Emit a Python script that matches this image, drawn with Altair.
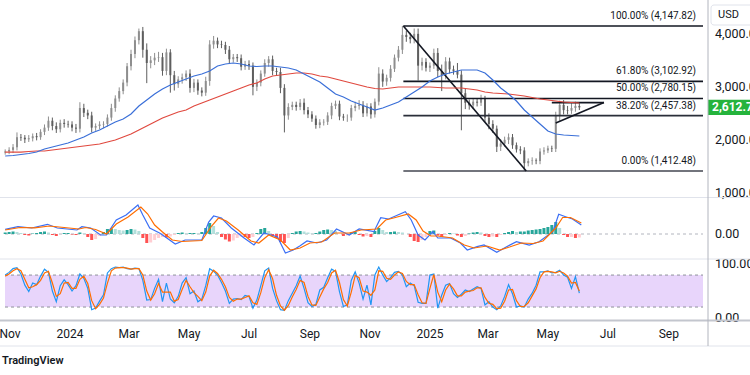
import altair as alt
import pandas as pd

# ------------------------------------------------------------------ data
START = "2023-10-27"          # first 4-day candle
first_open = 1760
close = [
    1780, 1810, 1860, 2050, 2040, 2010, 2030, 2070, 2050, 2150,
    2230, 2360, 2260, 2200, 2320, 2300, 2290, 2230, 2210, 2600,
    2510, 2460, 2230, 2260, 2290, 2300, 2420, 2600, 2780, 2920,
    3080, 3390, 3620, 3880, 4050, 3700, 3450, 3500, 3550, 3560,
    3300, 3650, 3220, 3050, 3140, 3180, 3250, 2980, 3080, 2930,
    2890, 3110, 3800, 3870, 3800, 3790, 3700, 3520, 3560, 3540,
    3380, 3430, 3400, 3000, 3080, 3250, 3450, 3520, 3300, 3280,
    2980, 2460, 2620, 2660, 2620, 2700, 2560, 2480, 2400, 2280,
    2330, 2340, 2460, 2640, 2680, 2440, 2420, 2420, 2600, 2640,
    2660, 2500, 2630, 2480, 2720, 3250, 3100, 3170, 3340, 3550,
    3700, 3980, 3940, 3900, 4000, 3400, 3470, 3360, 3400, 3640,
    3300, 3220, 3480, 3330, 3300, 3230, 2880, 2700, 2650, 2720,
    2700, 2770, 2420, 2300, 2210, 1870, 1930, 2000, 2050, 1900,
    1820, 1800, 1560, 1600, 1610, 1600, 1780, 1800, 1840, 1830,
    2450, 2660, 2560, 2550, 2600, 2640, 2612,
]
wick_up = [
    40, 50, 60, 90, 60, 50, 60, 50, 60, 50,
    60, 80, 60, 70, 60, 70, 60, 60, 70, 110,
    80, 60, 70, 50, 60, 50, 60, 80, 60, 70,
    60, 60, 80, 70, 50, 80, 120, 80, 90, 100,
    80, 70, 60, 80, 60, 70, 60, 80, 70, 60,
    60, 80, 80, 90, 60, 70, 60, 70, 60, 60,
    70, 60, 70, 60, 60, 60, 70, 60, 70, 60,
    80, 70, 70, 60, 60, 70, 80, 60, 60, 60,
    60, 50, 60, 60, 60, 60, 50, 60, 60, 80,
    90, 70, 60, 60, 60, 120, 80, 60, 70, 60,
    70, 170, 80, 80, 100, 100, 80, 70, 60, 80,
    90, 120, 80, 70, 70, 150, 80, 80, 60, 70,
    60, 80, 60, 80, 70, 60, 80, 60, 70, 60,
    50, 60, 60, 50, 60, 40, 60, 60, 50, 50,
    80, 80, 90, 80, 90, 80, 50,
]
wick_dn = [
    40, 50, 60, 60, 60, 70, 50, 60, 60, 50,
    60, 60, 80, 70, 60, 70, 60, 70, 80, 70,
    80, 70, 90, 60, 60, 70, 50, 60, 70, 60,
    60, 70, 80, 80, 80, 150, 380, 100, 90, 80,
    90, 80, 330, 120, 70, 80, 70, 90, 80, 80,
    70, 60, 90, 80, 70, 60, 80, 90, 60, 70,
    70, 60, 80, 160, 80, 70, 60, 70, 80, 70,
    100, 320, 80, 60, 70, 60, 80, 70, 60, 70,
    60, 60, 60, 70, 60, 70, 60, 80, 60, 60,
    70, 70, 60, 80, 60, 70, 100, 80, 70, 60,
    70, 80, 90, 80, 80, 280, 90, 70, 80, 60,
    120, 300, 80, 80, 70, 70, 700, 120, 80, 70,
    70, 60, 90, 100, 80, 100, 80, 60, 80, 70,
    60, 70, 148, 60, 70, 60, 60, 60, 50, 60,
    60, 90, 80, 70, 60, 70, 50,
]
# moving averages, one value every 8 days from START
ma_fast = [
    1695, 1704, 1723, 1742, 1770, 1827, 1865, 1903, 1940, 1997,
    2054, 2129, 2186, 2261, 2337, 2393, 2487, 2638, 2752, 2865,
    2959, 3035, 3091, 3148, 3204, 3242, 3299, 3393, 3431, 3450,
    3431, 3393, 3384, 3393, 3393, 3374, 3355, 3318, 3242, 3167,
    3091, 2978, 2865, 2808, 2733, 2676, 2619, 2563, 2601, 2657,
    2714, 2808, 2903, 2997, 3110, 3186, 3242, 3280, 3318, 3318,
    3318, 3261, 3129, 2978, 2865, 2733, 2563, 2431, 2299, 2167,
    2110, 2091, 2082, 2072,
]
ma_slow = [
    1770, 1770, 1770, 1780, 1789, 1789, 1808, 1827, 1846, 1865,
    1884, 1903, 1921, 1959, 1997, 2054, 2110, 2186, 2261, 2337,
    2412, 2469, 2525, 2563, 2638, 2695, 2752, 2808, 2865, 2921,
    2978, 3035, 3072, 3148, 3204, 3223, 3242, 3261, 3261, 3242,
    3204, 3186, 3148, 3110, 3072, 3035, 2997, 2969, 2959, 2978,
    2997, 2997, 2997, 2997, 2997, 2987, 2978, 2978, 2978, 2959,
    2940, 2903, 2884, 2874, 2865, 2846, 2827, 2799, 2770, 2752,
    2733, 2714, 2704, 2695,
]
# MACD (days after START, value)
macd_day = [0, 13, 27, 43, 53, 73, 78, 87, 97, 103, 113, 123, 135, 140, 147, 157, 163, 173, 183, 200,
            207, 212, 220, 230, 243, 253, 263, 277, 285, 293, 300, 307, 317, 327, 337, 350, 360, 375, 382, 390,
            407, 413, 420, 427, 435, 440, 453, 463, 470, 480, 487, 500, 510, 520, 533, 543, 557, 563, 570, 577, 586]
macd_val = [47, 73, 60, 97, 60, 40, 73, 60, -10, -10, 140, 190, 290, 190, 60, 10, -30, -100, -60, -60,
            120, 180, 160, 60, -40, -110, 10, -30, -190, -160, -117, -70, -90, -60, 50, -10, 50, 23, 163, 150,
            223, 140, -10, -60, 23, -40, -40, -90, -160, -127, -110, -183, -127, -77, -110, -77, 23, 197, 173, 150, 90]
sig_day = [0, 15, 30, 45, 55, 75, 82, 92, 103, 113, 125, 138, 145, 152, 160, 170, 180, 200, 210, 217,
           225, 237, 250, 258, 268, 280, 290, 300, 310, 322, 335, 350, 362, 378, 387, 395, 410, 418, 425, 433,
           440, 455, 467, 477, 490, 503, 513, 525, 537, 547, 560, 567, 575, 586]
sig_val = [40, 65, 62, 80, 70, 50, 65, 45, 0, 100, 170, 270, 200, 90, 20, -60, -75, -65, 80, 160,
           130, 40, -70, -90, -10, -60, -160, -140, -90, -80, 10, 10, 40, 50, 140, 160, 200, 140, 30, -20,
           -20, -40, -110, -140, -120, -160, -130, -90, -95, -70, 60, 165, 165, 110]
# histogram, one value per candle
hist_val = [
    15, 20, 25, 20, 10, -10, -15, 5, 10, 20, 25, 15, -10, -20, 0, 10, 10, -5, -10, 15,
    5, -30, -60, -50, -20, 20, 50, 55, 50, 40, 35, 40, 50, 45, 30, -40, -90, -85, -60, -40,
    -30, -35, -25, -10, 10, 15, 5, 10, 10, 5, 20, 60, 110, 80, 20, -30, -55, -75, -65, -40,
    -25, -30, -40, -30, 10, 50, 60, 30, -20, -40, -80, -90, -40, 10, 25, 30, 25, 15, 5, 10,
    25, 40, 45, 40, 30, 0, -20, -15, 15, 20, -10, -25, -20, -30, 30, 60, 40, 20, 20, 25,
    20, 15, 0, -30, -70, -80, -60, -30, 30, 35, -15, -30, -10, 10, 5, -15, -30, -20, 5, 15,
    20, 15, -20, -30, -25, -30, -10, 10, 20, 30, 20, 25, 25, 35, 40, 45, 50, 60, 70, 90,
    120, 60, -10, -30, -30, -40, -35,
]
# Stochastic RSI, one value per candle
stoch_k = [
    80, 85, 92, 94, 82, 61, 49, 65, 62, 78, 91, 85, 50, 30, 60, 71, 62, 50, 60, 82,
    74, 55, 15, 18, 31, 43, 84, 92, 95, 94, 95, 92, 91, 93, 92, 70, 33, 34, 55, 72,
    30, 65, 35, 28, 40, 65, 75, 45, 50, 30, 35, 60, 92, 87, 80, 66, 50, 27, 35, 36,
    34, 42, 40, 18, 33, 60, 88, 93, 55, 32, 15, 14, 32, 46, 60, 78, 55, 28, 21, 25,
    52, 57, 75, 91, 87, 49, 21, 24, 70, 86, 65, 35, 61, 24, 80, 95, 80, 68, 75, 85,
    87, 80, 58, 65, 60, 29, 27, 27, 80, 82, 18, 42, 61, 64, 45, 38, 44, 52, 49, 54,
    58, 55, 24, 30, 20, 15, 22, 40, 62, 45, 20, 22, 20, 35, 46, 61, 86, 86, 88, 84,
    85, 89, 80, 76, 55, 77, 46,
]
stoch_d = [
    78, 82, 88, 92, 88, 72, 56, 58, 62, 70, 84, 87, 65, 40, 45, 65, 66, 55, 55, 72,
    78, 64, 32, 17, 25, 37, 65, 88, 93, 94, 94, 93, 91, 92, 92, 80, 50, 33, 45, 64,
    48, 48, 48, 31, 34, 53, 70, 58, 47, 40, 32, 48, 78, 89, 83, 72, 58, 38, 31, 35,
    35, 38, 41, 28, 25, 47, 75, 90, 73, 42, 22, 14, 23, 39, 53, 70, 66, 40, 24, 23,
    39, 54, 66, 84, 89, 66, 34, 22, 48, 79, 75, 50, 48, 42, 52, 88, 87, 74, 72, 80,
    86, 83, 68, 62, 62, 43, 28, 27, 55, 81, 48, 30, 52, 63, 54, 41, 41, 48, 50, 51,
    56, 56, 38, 27, 25, 17, 18, 31, 52, 53, 32, 21, 21, 28, 41, 54, 75, 86, 87, 86,
    84, 87, 84, 78, 65, 66, 50,
]
fib_pct = ["100.00%", "61.80%", "50.00%", "38.20%", "0.00%"]
fib_price = [4147.82, 3102.92, 2780.15, 2457.38, 1412.48]
fib_color = ["#131722", "#131722", "#131722", "#2a2e39", "#434651"]
fib_start = "2024-12-05T00:00:00"
fib_label_at = "2025-09-28T17:00:00"
seg_t0 = ["2024-12-05T00:00:00", "2025-05-05T00:00:00", "2025-05-09T00:00:00"]
seg_p0 = [4147.82, 2703.0, 2318.0]
seg_t1 = ["2025-04-09T00:00:00", "2025-06-27T00:00:00", "2025-06-27T00:00:00"]
seg_p1 = [1412.48, 2703.0, 2703.0]
last_price = 2612.74
last_label = "2,612.74"
x_tick_dates = ["2023-11-01T00:00:00", "2024-01-01T00:00:00", "2024-03-01T00:00:00",
                "2024-05-01T00:00:00", "2024-07-01T00:00:00", "2024-09-01T00:00:00",
                "2024-11-01T00:00:00", "2025-01-01T00:00:00", "2025-03-01T00:00:00",
                "2025-05-01T00:00:00", "2025-07-01T00:00:00", "2025-09-01T00:00:00"]
x_tick_labels = ["Nov", "2024", "Mar", "May", "Jul", "Sep", "Nov", "2025", "Mar", "May", "Jul", "Sep"]
price_ticks = [1000, 2000, 3000, 4000]
macd_ticks = [0]
stoch_ticks = [0, 100]
X_END = "2025-10-05T18:14:00"
X_BEGIN = "2023-10-26T19:40:00"

# ------------------------------------------------------------------ frames
FMT = "%Y-%m-%dT%H:%M:%S"
t0 = pd.Timestamp(START)


def day(n):
    return (t0 + pd.Timedelta(days=n)).strftime(FMT)


n = len(close)
opens = [first_open] + close[:-1]
candles = pd.DataFrame({
    "date": [day(4 * i) for i in range(n)],
    "open": opens,
    "close": close,
    "high": [max(o, c) + u for o, c, u in zip(opens, close, wick_up)],
    "low": [min(o, c) - d for o, c, d in zip(opens, close, wick_dn)],
    "dir": ["up" if c >= o else "down" for o, c in zip(opens, close)],
})
ma_df = pd.DataFrame({"date": [day(8 * k) for k in range(len(ma_fast))],
                      "fast": ma_fast, "slow": ma_slow})
macd_df = pd.DataFrame({"date": [day(d) for d in macd_day], "v": macd_val})
sig_df = pd.DataFrame({"date": [day(d) for d in sig_day], "v": sig_val})
hcol, prev = [], 0
for h in hist_val:
    if h >= 0:
        hcol.append("#26a69a" if h >= prev else "#b2dfdb")
    else:
        hcol.append("#ff5252" if h < prev else "#ffcdd2")
    prev = h
hist_df = pd.DataFrame({"date": [day(4 * i) for i in range(len(hist_val))],
                        "h": hist_val, "z": 0, "col": hcol})
stoch_df = pd.DataFrame({"date": [day(4 * i) for i in range(len(stoch_k))],
                         "k": stoch_k, "d": stoch_d})
fib_df = pd.DataFrame({
    "s": fib_start, "e": X_END, "lx": fib_label_at, "p": fib_price, "c": fib_color,
    "label": [f"{a} ({b:,.2f})" for a, b in zip(fib_pct, fib_price)],
})
seg_df = pd.DataFrame({"t0": seg_t0, "p0": seg_p0, "t1": seg_t1, "p1": seg_p1})
tag_df = pd.DataFrame({"p": [last_price], "top": [last_price + 145], "bot": [last_price - 145],
                       "label": [last_label]})
span_df = pd.DataFrame({"s": [X_BEGIN], "e": [X_END], "z": [0], "lo": [20], "hi": [80]})
xlab_df = pd.DataFrame({"date": x_tick_dates, "label": x_tick_labels})
plab_df = pd.DataFrame({"v": price_ticks, "label": [f"{v:,.2f}" for v in price_ticks]})
mlab_df = pd.DataFrame({"v": macd_ticks, "label": [f"{v:,.2f}" for v in macd_ticks]})
slab_df = pd.DataFrame({"v": stoch_ticks, "label": [f"{v:,.2f}" for v in stoch_ticks]})
one = pd.DataFrame({"a": [0]})

# ------------------------------------------------------------------ scales
XS = alt.Scale(domain=[alt.DateTime(year=2023, month=10, date=26, hours=19, minutes=40),
                       alt.DateTime(year=2025, month=10, date=5, hours=18, minutes=14)])
PS = alt.Scale(domain=[940.3, 4638.4], range=[196, 0], nice=False, zero=False)
MS = alt.Scale(domain=[-250, 360], range=[259, 198], nice=False, zero=False)
SS = alt.Scale(domain=[-4.3, 110.1], range=[320, 259], nice=False, zero=False)
FONT = "Roboto"
TXT = "#131722"


def X(field):
    return alt.X(field, scale=XS, axis=None)


def Y(field, sc):
    return alt.Y(field, scale=sc, axis=None)


def ylabels(df, sc):
    return alt.Chart(df).mark_text(align="left", baseline="middle", fontSize=12.5, font=FONT,
                                   color=TXT).encode(
        x=alt.value(715), y=Y("v:Q", sc), text="label:N")


# ------------------------------------------------------------------ price panel
UP, DOWN = "#8e8e8e", "#5e5e5e"
cscale = alt.Scale(domain=["up", "down"], range=[UP, DOWN])
wicks = alt.Chart(candles).mark_rule(strokeWidth=1).encode(
    x=X("date:T"), y=Y("low:Q", PS), y2="high:Q",
    color=alt.Color("dir:N", scale=cscale, legend=None))
bodies = alt.Chart(candles).mark_bar(size=2).encode(
    x=X("date:T"), y=Y("open:Q", PS), y2="close:Q",
    color=alt.Color("dir:N", scale=cscale, legend=None))
fib_lines = alt.Chart(fib_df).mark_rule(strokeWidth=1.6).encode(
    x=X("s:T"), x2="e:T", y=Y("p:Q", PS),
    color=alt.Color("c:N", scale=None))
fib_text = alt.Chart(fib_df).mark_text(align="right", baseline="middle", dy=-10, fontSize=10,
                                       font=FONT, color=TXT).encode(
    x=X("lx:T"), y=Y("p:Q", PS), text="label:N")
segs = alt.Chart(seg_df).mark_rule(strokeWidth=1.6, color="#131722").encode(
    x=X("t0:T"), x2="t1:T", y=Y("p0:Q", PS), y2="p1:Q")
ma_f = alt.Chart(ma_df).mark_line(strokeWidth=1.2, color="#3a6fd8").encode(
    x=X("date:T"), y=Y("fast:Q", PS))
ma_s = alt.Chart(ma_df).mark_line(strokeWidth=1.2, color="#e0493f").encode(
    x=X("date:T"), y=Y("slow:Q", PS))
tag_box = alt.Chart(tag_df).mark_rect(color="#25b33c").encode(
    x=alt.value(708), x2=alt.value(770), y=Y("top:Q", PS), y2="bot:Q")
tag_txt = alt.Chart(tag_df).mark_text(align="left", baseline="middle", color="white",
                                      fontSize=12, fontWeight="bold", font=FONT).encode(
    x=alt.value(712), y=Y("p:Q", PS), text="label:N")
price = alt.layer(wicks, bodies, fib_lines, segs, ma_s, ma_f, fib_text,
                  ylabels(plab_df, PS), tag_box, tag_txt)

# ------------------------------------------------------------------ MACD panel
m_zero = alt.Chart(span_df).mark_rule(strokeDash=[3, 3], color="#b2b5be", strokeWidth=1).encode(
    x=X("s:T"), x2="e:T", y=Y("z:Q", MS))
m_hist = alt.Chart(hist_df).mark_bar(size=3).encode(
    x=X("date:T"), y=Y("h:Q", MS), y2="z:Q",
    color=alt.Color("col:N", scale=None))
m_line = alt.Chart(macd_df).mark_line(strokeWidth=1.2, color="#3b6ff5").encode(
    x=X("date:T"), y=Y("v:Q", MS))
s_line = alt.Chart(sig_df).mark_line(strokeWidth=1.2, color="#ff6d00").encode(
    x=X("date:T"), y=Y("v:Q", MS))
macd = alt.layer(m_zero, m_hist, m_line, s_line, ylabels(mlab_df, MS))

# ------------------------------------------------------------------ Stoch RSI panel
band = alt.Chart(span_df).mark_rect(color="#e8d5fb").encode(
    x=X("s:T"), x2="e:T", y=Y("lo:Q", SS), y2="hi:Q")
b_hi = alt.Chart(span_df).mark_rule(strokeDash=[3, 3], color="#8f929b", strokeWidth=1).encode(
    x=X("s:T"), x2="e:T", y=Y("hi:Q", SS))
b_lo = alt.Chart(span_df).mark_rule(strokeDash=[3, 3], color="#8f929b", strokeWidth=1).encode(
    x=X("s:T"), x2="e:T", y=Y("lo:Q", SS))
k_line = alt.Chart(stoch_df).mark_line(strokeWidth=1.2, color="#2196f3").encode(
    x=X("date:T"), y=Y("k:Q", SS))
d_line = alt.Chart(stoch_df).mark_line(strokeWidth=1.2, color="#ff6d00").encode(
    x=X("date:T"), y=Y("d:Q", SS))
stoch = alt.layer(band, b_hi, b_lo, k_line, d_line, ylabels(slab_df, SS))

# ------------------------------------------------------------------ x labels (time scale)
xlabels = alt.Chart(xlab_df).mark_text(align="center", baseline="middle", fontSize=12,
                                       font=FONT, color=TXT).encode(
    x=X("date:T"), y=alt.value(334), text="label:N")


# ------------------------------------------------------------------ frame decorations
def hline(y, color, w=1):
    return alt.Chart(one).mark_rule(color=color, strokeWidth=w).encode(
        x=alt.value(0), x2=alt.value(760), y=alt.value(y))


vline = alt.Chart(one).mark_rule(color="#b2b5be", strokeWidth=1).encode(
    x=alt.value(708), y=alt.value(0), y2=alt.value(346))
usd_box = alt.Chart(one).mark_rect(fill="white", stroke="#e0e3eb", strokeWidth=1,
                                   cornerRadius=3).encode(
    x=alt.value(711), x2=alt.value(765), y=alt.value(5), y2=alt.value(25))
usd_txt = alt.Chart(one).mark_text(text="USD", align="left", baseline="middle", fontSize=11,
                                   font=FONT, color=TXT).encode(x=alt.value(718), y=alt.value(15))
brand = alt.Chart(one).mark_text(text="TradingView", align="left", baseline="middle",
                                 fontSize=11, fontWeight=600, font=FONT, color=TXT).encode(
    x=alt.value(2), y=alt.value(361))

chart = alt.layer(
    price, macd, stoch, xlabels,
    hline(197.5, "#e0e3eb"), hline(259, "#e0e3eb"), hline(320.5, "#c3c6ce", 2),
    hline(346, "#e0e3eb"), vline, usd_box, usd_txt, brand,
).resolve_scale(y="independent").properties(
    width=708, height=320,
    autosize=alt.AutoSizeParams(type="none"),
    padding={"left": 0, "top": 0, "right": 42, "bottom": 55},
    background="white",
).configure_view(strokeWidth=0)

chart.save("out.html", embed_options={"renderer": "svg", "actions": False})
